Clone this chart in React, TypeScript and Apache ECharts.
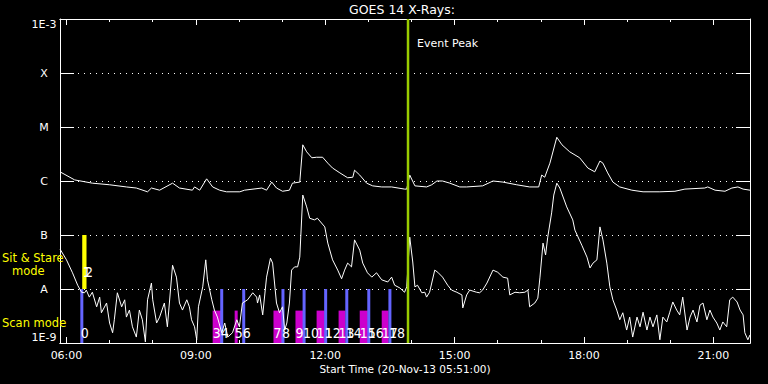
import React, { useEffect, useRef } from "react";
import * as echarts from "echarts";

// Time axis in decimal hours of 20-Nov-2013 (start 05:51, 16 h span)
const startHour = 5.85;
const endHour = 21.85;
const hourTicks = [6, 7, 8, 9, 10, 11, 12, 13, 14, 15, 16, 17, 18, 19, 20, 21];
const majorHourTicks = [6, 9, 12, 15, 18, 21];

// Y axis: log10 of X-ray flux (W/m^2), -9 .. -3
const levelLabels = ["1E-9", "A", "B", "C", "M", "X", "1E-3"];

// GOES 14 long channel (1-8 A): [hour, log10 flux]
const longChannel: [number, number][] = [
  [5.85, -5.83], [6.19, -5.98], [6.6, -6.04], [7.0, -6.07], [7.39, -6.11], [7.62, -6.13], [7.88, -6.2], [7.97, -6.13],
  [8.16, -6.17], [8.46, -6.04], [8.62, -6.13], [8.92, -6.17], [8.97, -6.11], [9.09, -6.17], [9.25, -5.96], [9.39, -6.11],
  [9.55, -6.17], [9.71, -6.2], [10.02, -6.2], [10.13, -6.17], [10.53, -6.13], [10.64, -6.17], [10.76, -6.02], [10.87, -6.13],
  [11.01, -6.19], [11.17, -6.17], [11.24, -6.04], [11.41, -6.02], [11.48, -5.33], [11.57, -5.46], [11.69, -5.57], [11.8, -5.56],
  [11.94, -5.56], [12.06, -5.67], [12.17, -5.76], [12.34, -5.85], [12.52, -5.94], [12.64, -5.93], [12.68, -5.8], [12.8, -5.89],
  [12.96, -6.04], [13.1, -6.09], [13.31, -6.11], [13.54, -6.11], [13.84, -6.15], [13.89, -6.15], [13.96, -5.89], [14.08, -6.09],
  [14.35, -6.11], [14.47, -6.07], [14.59, -6.0], [14.72, -6.0], [14.89, -6.04], [15.12, -6.11], [15.28, -6.11], [15.65, -6.09],
  [15.89, -6.0], [16.12, -6.02], [16.44, -6.07], [16.74, -6.11], [16.95, -6.11], [17.02, -5.89], [17.09, -5.93], [17.21, -5.67],
  [17.37, -5.19], [17.49, -5.33], [17.67, -5.46], [17.9, -5.57], [18.09, -5.76], [18.25, -5.83], [18.37, -5.63], [18.44, -5.67],
  [18.55, -5.85], [18.67, -6.02], [18.83, -6.11], [19.11, -6.17], [19.37, -6.2], [19.76, -6.2], [20.11, -6.19], [20.34, -6.15],
  [20.8, -6.13], [20.87, -6.11], [21.04, -6.17], [21.27, -6.19], [21.43, -6.13], [21.57, -6.11], [21.69, -6.15], [21.85, -6.17],
];

// GOES 14 short channel (0.5-4 A): [hour, log10 flux]
const shortChannel: [number, number][] = [
  [5.85, -7.26], [6.0, -7.46], [6.14, -7.7], [6.26, -7.93], [6.35, -8.06], [6.42, -8.07], [6.46, -8.02], [6.53, -8.15],
  [6.6, -8.06], [6.7, -8.33], [6.77, -8.15], [6.81, -8.44], [6.93, -8.26], [7.0, -8.63], [7.07, -8.81], [7.11, -8.57],
  [7.18, -8.07], [7.28, -8.33], [7.35, -8.2], [7.39, -8.52], [7.46, -8.39], [7.53, -8.7], [7.62, -8.89], [7.69, -8.39],
  [7.76, -8.57], [7.83, -8.98], [7.88, -8.2], [7.97, -7.89], [8.0, -8.2], [8.09, -8.63], [8.16, -8.52], [8.27, -8.26],
  [8.34, -8.7], [8.46, -7.56], [8.55, -7.78], [8.62, -8.26], [8.69, -8.39], [8.79, -8.2], [8.85, -8.33], [8.9, -8.57],
  [8.97, -8.7], [9.02, -8.94], [9.06, -8.33], [9.16, -7.96], [9.23, -7.46], [9.27, -7.83], [9.37, -8.2], [9.43, -8.39],
  [9.5, -8.52], [9.6, -8.81], [9.67, -8.63], [9.74, -8.89], [9.85, -8.81], [9.95, -8.57], [10.01, -8.7], [10.08, -8.26],
  [10.2, -8.2], [10.32, -8.07], [10.41, -8.15], [10.43, -8.26], [10.48, -8.11], [10.55, -8.48], [10.64, -7.78], [10.73, -7.43],
  [10.78, -7.52], [10.87, -8.26], [10.94, -8.44], [11.01, -8.33], [11.06, -8.76], [11.11, -8.63], [11.17, -8.26], [11.22, -7.65],
  [11.29, -7.59], [11.36, -7.59], [11.41, -7.41], [11.48, -6.26], [11.57, -6.48], [11.64, -6.69], [11.75, -6.72], [11.82, -6.69],
  [11.99, -6.85], [12.06, -7.15], [12.17, -7.46], [12.29, -7.65], [12.38, -7.81], [12.45, -7.65], [12.52, -7.52], [12.61, -7.59],
  [12.68, -7.09], [12.8, -7.28], [12.87, -7.52], [12.98, -7.7], [13.08, -7.78], [13.19, -7.7], [13.31, -7.83], [13.45, -7.87],
  [13.54, -7.78], [13.61, -7.93], [13.73, -7.98], [13.84, -8.06], [13.89, -7.96], [13.96, -7.04], [14.03, -7.5], [14.08, -7.96],
  [14.14, -7.93], [14.24, -8.07], [14.31, -8.06], [14.35, -8.15], [14.42, -8.06], [14.54, -7.65], [14.61, -7.69], [14.72, -7.78],
  [14.84, -7.93], [14.93, -8.02], [15.05, -8.06], [15.17, -8.11], [15.19, -8.35], [15.28, -8.11], [15.35, -8.02], [15.51, -8.06],
  [15.58, -8.07], [15.65, -8.02], [15.75, -7.89], [15.89, -7.65], [16.0, -7.69], [16.12, -7.78], [16.23, -7.8], [16.28, -8.11],
  [16.4, -8.06], [16.51, -8.07], [16.63, -8.06], [16.7, -8.02], [16.74, -8.33], [16.86, -8.26], [16.93, -8.17], [16.98, -7.78],
  [17.05, -7.15], [17.11, -7.37], [17.16, -7.04], [17.25, -6.59], [17.3, -6.26], [17.37, -6.04], [17.44, -6.13], [17.6, -6.48],
  [17.74, -6.72], [17.79, -6.91], [17.95, -7.19], [18.07, -7.41], [18.14, -7.61], [18.21, -7.52], [18.3, -7.46], [18.37, -6.85],
  [18.44, -7.09], [18.53, -7.52], [18.6, -7.96], [18.67, -8.2], [18.76, -8.39], [18.83, -8.57], [18.9, -8.44], [18.99, -8.76],
  [19.06, -8.52], [19.13, -8.89], [19.23, -8.52], [19.3, -8.7], [19.37, -8.43], [19.46, -8.76], [19.53, -8.52], [19.6, -8.7],
  [19.69, -8.48], [19.76, -8.94], [19.83, -8.52], [19.92, -8.61], [19.99, -8.43], [20.06, -8.24], [20.15, -8.39], [20.22, -8.48],
  [20.29, -8.15], [20.39, -8.76], [20.46, -8.52], [20.53, -8.39], [20.62, -8.61], [20.69, -8.3], [20.76, -8.26], [20.85, -8.57],
  [20.92, -8.39], [20.99, -8.52], [21.08, -8.63], [21.15, -8.76], [21.22, -8.61], [21.31, -8.7], [21.38, -8.2], [21.45, -8.15],
  [21.55, -8.24], [21.62, -8.39], [21.69, -8.48], [21.73, -8.81], [21.8, -8.94], [21.85, -8.85],
];

// Observation timeline
const scanRasterIntervals: [number, number][] = [
  [9.39, 9.6], [9.9, 9.97], [10.8, 11.03], [11.31, 11.5], [11.8, 11.99], [12.31, 12.47], [12.8, 12.99], [13.31, 13.47],
];
const scanRasterLabels = ["3", "5", "7", "9", "11", "13", "15", "17"];
const scanMarkTimes = [6.356, 9.6, 10.11, 11.02, 11.51, 12.01, 12.5, 13.01, 13.5];
const scanMarkLabels = ["0", "4", "6", "8", "10", "12", "14", "16", "18"];
const sitStareTimes = [6.4, 6.43];
const sitStareLabels = ["1", "2"];
const eventPeakTime = 13.92;

const titleText = "GOES 14 X-Rays:";
const xAxisTitle = "Start Time (20-Nov-13 05:51:00)";

type Mark = { t0: number; t1: number; row: "scan" | "sit"; kind: "interval" | "mark"; color: string; label: string };
const marks: Mark[] = [
  ...scanRasterIntervals.map((iv, i) => ({ t0: iv[0], t1: iv[1], row: "scan" as const, kind: "interval" as const, color: "#cc00cc", label: scanRasterLabels[i] })),
  ...scanMarkTimes.map((t, i) => ({ t0: t, t1: t, row: "scan" as const, kind: "mark" as const, color: "#6464ff", label: scanMarkLabels[i] })),
  ...sitStareTimes.map((t, i) => ({ t0: t, t1: t, row: "sit" as const, kind: "mark" as const, color: "#ffff00", label: sitStareLabels[i] })),
];

const FONT = "DejaVu Sans";
const LABEL_FONT = "'DejaVu Sans Condensed', 'Liberation Sans Narrow', 'DejaVu Sans', sans-serif";

const pad2 = (v: number) => (v < 10 ? "0" + v : String(v));

function markGeometry(m: Mark, api: any) {
  const rowBottom = m.row === "scan" ? -9 : -8;
  const pBot = api.coord([m.t0, rowBottom]);
  const pTop = api.coord([m.t0, rowBottom + 1]);
  const rowH = pBot[1] - pTop[1];
  if (m.kind === "interval") {
    const x1 = api.coord([m.t1, rowBottom])[0];
    return { x0: pBot[0], w: x1 - pBot[0], yTop: pBot[1] - rowH * 0.6, yBot: pBot[1], labelX: pBot[0] };
  }
  return { x0: pBot[0] - 1.5, w: 3, yTop: pTop[1], yBot: pBot[1], labelX: pBot[0] - 1 };
}

function buildOption(): any {
  const xBase = {
    type: "value",
    min: startHour,
    max: endHour,
    axisLine: { show: true, onZero: false, lineStyle: { color: "#fff", width: 1 } },
    splitLine: { show: false },
  };
  return {
    animation: false,
    backgroundColor: "#000",
    grid: { left: 60, right: 18, top: 19, bottom: 41, containLabel: false },
    xAxis: [
      { ...xBase, position: "bottom", axisTick: { show: true, inside: true, length: 3, customValues: hourTicks, lineStyle: { color: "#fff" } }, axisLabel: { show: false } },
      {
        ...xBase,
        position: "bottom",
        axisTick: { show: true, inside: true, length: 6, customValues: majorHourTicks, lineStyle: { color: "#fff" } },
        axisLabel: {
          show: true,
          customValues: majorHourTicks,
          color: "#fff",
          fontFamily: FONT,
          fontSize: 11,
          margin: 7,
          formatter: (v: number) => pad2(Math.round(v)) + ":00",
        },
      },
      { ...xBase, position: "top", axisTick: { show: true, inside: true, length: 3, customValues: hourTicks, lineStyle: { color: "#fff" } }, axisLabel: { show: false } },
      { ...xBase, position: "top", axisTick: { show: true, inside: true, length: 6, customValues: majorHourTicks, lineStyle: { color: "#fff" } }, axisLabel: { show: false } },
    ],
    yAxis: [
      {
        type: "value",
        min: -9,
        max: -3,
        interval: 1,
        position: "left",
        axisLine: { show: true, onZero: false, lineStyle: { color: "#fff" } },
        axisTick: { show: true, inside: true, length: 14, lineStyle: { color: "#fff" } },
        axisLabel: {
          color: "#fff",
          fontFamily: FONT,
          fontSize: 11,
          align: "center",
          margin: 16,
          verticalAlignMaxLabel: "top",
          verticalAlignMinLabel: "bottom",
          formatter: (v: number) => levelLabels[Math.round(v) + 9],
        },
        splitLine: { show: true, lineStyle: { color: "#fff", width: 1, type: [1, 5] } },
      },
      {
        type: "value",
        min: -9,
        max: -3,
        interval: 1,
        position: "right",
        axisLine: { show: true, onZero: false, lineStyle: { color: "#fff" } },
        axisTick: { show: true, inside: true, length: 14, lineStyle: { color: "#fff" } },
        axisLabel: { show: false },
        splitLine: { show: false },
      },
    ],
    series: [
      {
        type: "custom",
        name: "observations",
        xAxisIndex: 0,
        yAxisIndex: 0,
        z: 1,
        clip: false,
        data: marks.map((m) => [m.t0, m.t1]),
        renderItem: (params: any, api: any) => {
          const m = marks[params.dataIndex];
          const g = markGeometry(m, api);
          return { type: "rect", shape: { x: g.x0, y: g.yTop, width: g.w, height: g.yBot - g.yTop }, style: { fill: m.color } };
        },
      },
      {
        type: "line",
        name: "long",
        xAxisIndex: 0,
        yAxisIndex: 0,
        z: 3,
        data: longChannel,
        showSymbol: false,
        symbol: "none",
        lineStyle: { color: "#fff", width: 1 },
      },
      {
        type: "line",
        name: "short",
        xAxisIndex: 0,
        yAxisIndex: 0,
        z: 3,
        data: shortChannel,
        showSymbol: false,
        symbol: "none",
        lineStyle: { color: "#fff", width: 1 },
      },
      {
        type: "custom",
        name: "observationLabels",
        xAxisIndex: 0,
        yAxisIndex: 0,
        z: 4,
        clip: false,
        data: marks.map((m) => [m.t0, m.t1]),
        renderItem: (params: any, api: any) => {
          const m = marks[params.dataIndex];
          const g = markGeometry(m, api);
          const labelY = m.row === "scan" ? g.yBot - 10.5 : g.yBot - 17;
          return {
            type: "text",
            x: g.labelX + (m.row === "sit" ? params.dataIndex - marks.length + 2 : 0),
            y: labelY,
            style: { text: m.label, fill: "#fff", fontSize: 14, fontFamily: LABEL_FONT, align: "left", verticalAlign: "middle" },
          };
        },
      },
      {
        type: "custom",
        name: "eventPeak",
        xAxisIndex: 0,
        yAxisIndex: 0,
        z: 5,
        clip: false,
        data: [[eventPeakTime]],
        renderItem: (params: any, api: any) => {
          const t = api.value(0);
          const top = api.coord([t, -3]);
          const bot = api.coord([t, -9]);
          return {
            type: "group",
            children: [
              { type: "line", shape: { x1: top[0], y1: top[1], x2: bot[0], y2: bot[1] }, style: { stroke: "#99cc00", lineWidth: 2.5 } },
              {
                type: "text",
                x: top[0] + 9,
                y: top[1] + 24,
                style: { text: "Event Peak", fill: "#fff", fontSize: 11, fontFamily: FONT, align: "left", verticalAlign: "middle" },
              },
            ],
          };
        },
      },
    ],
    graphic: [
      { type: "text", x: 402, y: 9, style: { text: titleText, fill: "#fff", fontSize: 12.5, fontFamily: FONT, align: "center", verticalAlign: "middle" } },
      { type: "text", x: 405, y: 369, style: { text: xAxisTitle, fill: "#fff", fontSize: 10.5, fontFamily: FONT, align: "center", verticalAlign: "middle" } },
      { type: "text", x: 2, y: 258, z: 100, style: { text: "Sit & Stare", fill: "#ffff00", fontSize: 11.5, fontFamily: FONT, align: "left", verticalAlign: "middle" } },
      { type: "text", x: 12, y: 271, z: 100, style: { text: "mode", fill: "#ffff00", fontSize: 11.5, fontFamily: FONT, align: "left", verticalAlign: "middle" } },
      { type: "text", x: 2, y: 323, z: 100, style: { text: "Scan mode", fill: "#ffff00", fontSize: 11.5, fontFamily: FONT, align: "left", verticalAlign: "middle" } },
    ],
  };
}

export default function App() {
  const ref = useRef<HTMLDivElement>(null);
  useEffect(() => {
    if (!ref.current) return;
    const chart = echarts.init(ref.current, null, { renderer: "svg" });
    chart.setOption(buildOption());
    return () => chart.dispose();
  }, []);
  return (
    <div
      ref={ref}
      style={{ position: "absolute", left: 0, top: 0, width: 768, height: 384, background: "#000" }}
    />
  );
}
